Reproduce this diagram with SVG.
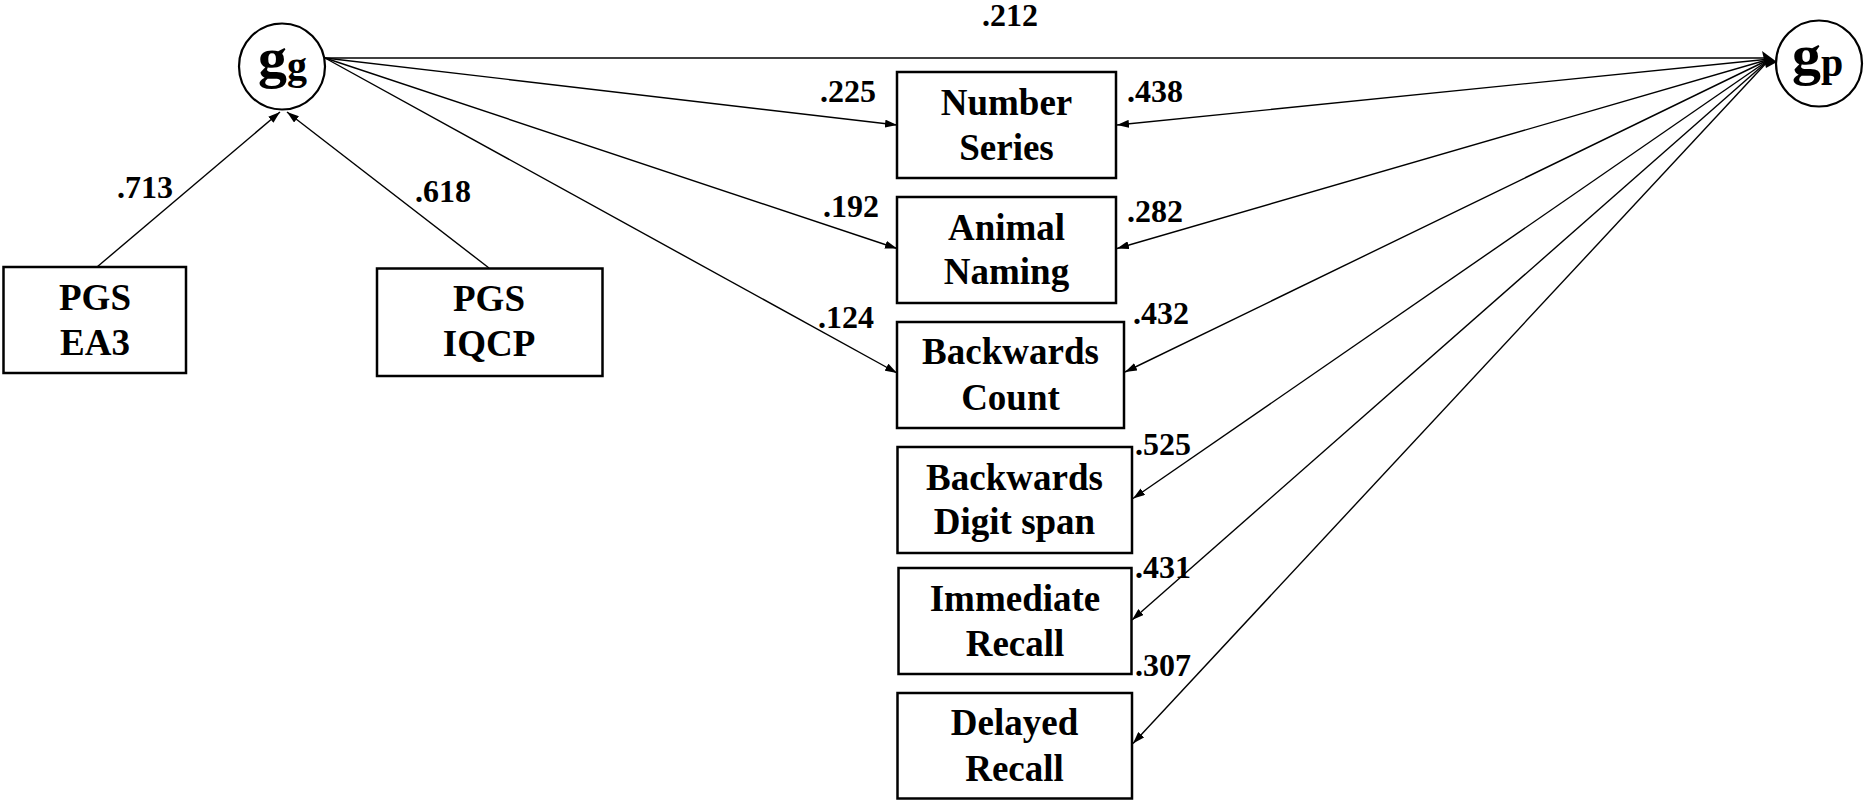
<svg xmlns="http://www.w3.org/2000/svg" width="1866" height="803" viewBox="0 0 1866 803">
<style>
.box{fill:#fff;stroke:#000;stroke-width:2.5}
.lat{fill:#fff;stroke:#000;stroke-width:2.2}
.t{font-family:"Liberation Serif","Times New Roman",serif;font-weight:bold;font-size:37px;text-anchor:middle;fill:#000}
.l{font-family:"Liberation Serif","Times New Roman",serif;font-weight:bold;font-size:32px;fill:#000}
.g{font-family:"Liberation Serif","Times New Roman",serif;font-weight:bold;fill:#000}
.c{fill:none;stroke:#000;stroke-width:1.4}
</style>
<defs>
<marker id="ah" viewBox="0 0 12 8" refX="12" refY="4" markerWidth="12" markerHeight="8" markerUnits="userSpaceOnUse" orient="auto">
<path d="M0,0 L12,4 L0,8 z" fill="#000"/>
</marker>
</defs>
<g id="connectors">
<path class="c" d="M325,58 L1768,58"/>
<polygon points="1762,51 1777,62 1766,68" fill="#000"/>
<path class="c" d="M325,58 L897,125" marker-end="url(#ah)"/>
<path class="c" d="M325,58 L897,248.5" marker-end="url(#ah)"/>
<path class="c" d="M325,58 L897,373" marker-end="url(#ah)"/>
<path class="c" d="M1770,59 L1117,125" marker-end="url(#ah)"/>
<path class="c" d="M1770,59 L1117,248.5" marker-end="url(#ah)"/>
<path class="c" d="M1770,59 L1125,372" marker-end="url(#ah)"/>
<path class="c" d="M1770,59 L1133,498.5" marker-end="url(#ah)"/>
<path class="c" d="M1770,59 L1132,620" marker-end="url(#ah)"/>
<path class="c" d="M1770,59 L1133,743.5" marker-end="url(#ah)"/>
<path class="c" d="M97,267 L280,112" marker-end="url(#ah)"/>
<path class="c" d="M489,268 L287,112" marker-end="url(#ah)"/>
</g>
<g id="labels">
<text class="l" x="1010" y="26" text-anchor="middle">.212</text>
<text class="l" x="117" y="198">.713</text>
<text class="l" x="415" y="202">.618</text>
<text class="l" x="820" y="102">.225</text>
<text class="l" x="823" y="217">.192</text>
<text class="l" x="818" y="328">.124</text>
<text class="l" x="1127" y="102">.438</text>
<text class="l" x="1127" y="222">.282</text>
<text class="l" x="1133" y="324">.432</text>
<text class="l" x="1135" y="455">.525</text>
<text class="l" x="1135" y="578">.431</text>
<text class="l" x="1135" y="676">.307</text>
</g>
<g id="gg">
<circle class="lat" cx="282" cy="66.5" r="43"/>
<text class="g" x="258" y="77" font-size="58">g<tspan font-size="40" dy="2">g</tspan></text>
</g>
<g id="gp">
<circle class="lat" cx="1819" cy="63.5" r="43"/>
<text class="g" x="1792" y="74" font-size="58">g<tspan font-size="40" dy="2">p</tspan></text>
</g>
<g id="pgs-ea3">
<rect class="box" x="3.5" y="267" width="182.5" height="106"/>
<text class="t" x="95" y="310">PGS</text>
<text class="t" x="95" y="355">EA3</text>
</g>
<g id="pgs-iqcp">
<rect class="box" x="377" y="268.5" width="225.5" height="107.5"/>
<text class="t" x="489" y="311">PGS</text>
<text class="t" x="489" y="356">IQCP</text>
</g>
<g id="number-series">
<rect class="box" x="897" y="72" width="219" height="106"/>
<text class="t" x="1006.5" y="115">Number</text>
<text class="t" x="1006.5" y="160">Series</text>
</g>
<g id="animal-naming">
<rect class="box" x="897" y="197" width="219" height="106"/>
<text class="t" x="1006.5" y="240">Animal</text>
<text class="t" x="1006.5" y="284">Naming</text>
</g>
<g id="backwards-count">
<rect class="box" x="897" y="322" width="227" height="106"/>
<text class="t" x="1010.5" y="364">Backwards</text>
<text class="t" x="1010.5" y="410">Count</text>
</g>
<g id="backwards-digit-span">
<rect class="box" x="897.5" y="447" width="234.5" height="106"/>
<text class="t" x="1014.5" y="490">Backwards</text>
<text class="t" x="1014.5" y="534">Digit span</text>
</g>
<g id="immediate-recall">
<rect class="box" x="898.5" y="568" width="233" height="106"/>
<text class="t" x="1015" y="611">Immediate</text>
<text class="t" x="1015" y="656">Recall</text>
</g>
<g id="delayed-recall">
<rect class="box" x="897.5" y="693" width="234.5" height="105.5"/>
<text class="t" x="1014.5" y="735">Delayed</text>
<text class="t" x="1014.5" y="781">Recall</text>
</g>
</svg>
